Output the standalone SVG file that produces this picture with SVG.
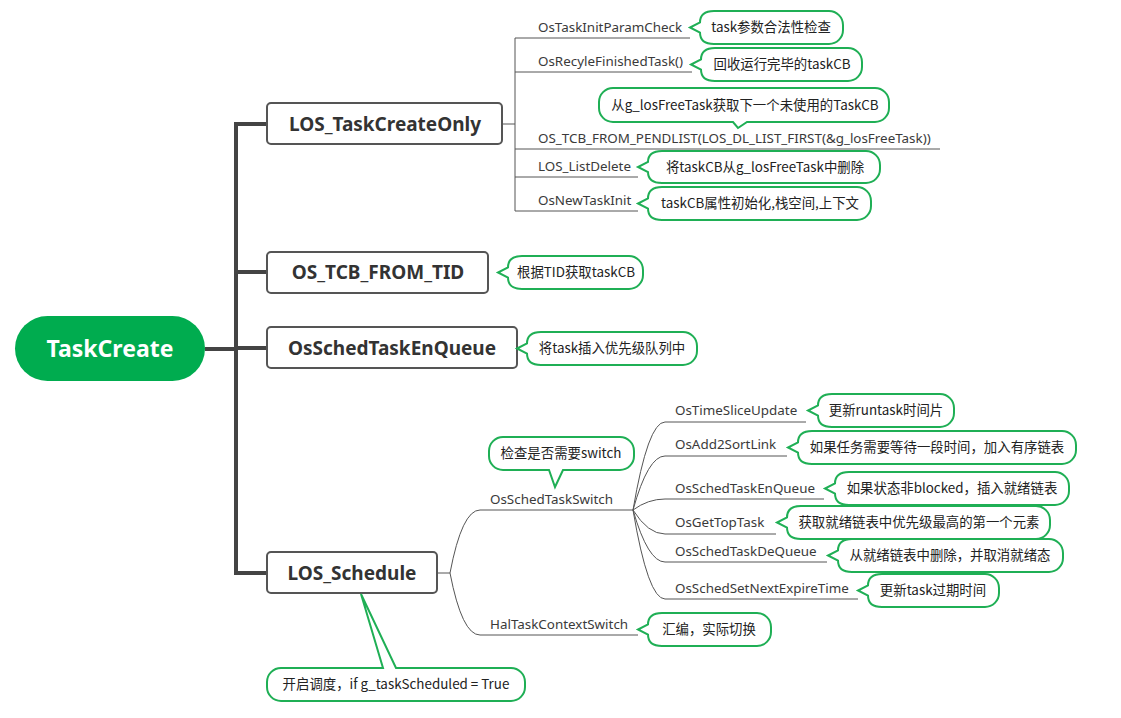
<svg xmlns="http://www.w3.org/2000/svg" width="1121" height="718" viewBox="0 0 1121 718">
<style>
.trunk{fill:none;stroke:#444;stroke-width:4}
.thin{fill:none;stroke:#555;stroke-width:1}
.node{fill:#fff;stroke:#555;stroke-width:2}
.nt{font-family:"Noto Sans","Noto Sans CJK SC",sans-serif;font-weight:bold;font-size:19px;fill:#333;text-anchor:middle}
.lbl{font-family:"Noto Sans","Noto Sans CJK SC",sans-serif;font-size:13.4px;fill:#3a3a3a}
.bub{fill:#fff;stroke:#1FAF55;stroke-width:2}
.bt{font-family:"Noto Sans CJK SC","Noto Sans",sans-serif;font-size:13.4px;fill:#222;text-anchor:middle}
</style>
<rect width="1121" height="718" fill="#fff"/>
<g id="connectors">
<path class="trunk" d="M205,349 H236 M236,122 V575 M234,124 H267 M236,272 H267 M236,348 H267 M234,573 H267"/>
<path class="thin" d="M502,124 H515 M515,38 V211 M515,38 H690 M515,72 H692 M515,149 H940 M515,177 H638 M515,211 H638"/>
<path class="thin" d="M437,573 H450 M450,573 Q462,510 480,510 H633 M450,573 Q462,635 480,635 H638"/>
<path class="thin" d="M633,510 Q648,422 665,422 H806 M633,510 Q648,456 665,456 H787 M633,510 Q648,499 665,499 H824 M633,510 Q648,534 665,534 H776 M633,510 Q648,562 665,562 H827 M633,510 Q648,599 665,599 H858"/>
</g>
<g id="root">
<rect x="15" y="316" width="190" height="65" rx="32.5" fill="#00AC4F"/>
<text x="110" y="357" font-family="Noto Sans,sans-serif" font-weight="bold" font-size="23" fill="#fff" text-anchor="middle">TaskCreate</text>
</g>
<g id="n-createonly">
<rect class="node" x="267" y="103" width="235" height="41" rx="4"/>
<text class="nt" x="385" y="131">LOS_TaskCreateOnly</text>
</g>
<g id="n-tcbfromtid">
<rect class="node" x="267" y="252" width="221" height="41" rx="4"/>
<text class="nt" x="378" y="279">OS_TCB_FROM_TID</text>
</g>
<g id="n-enqueue">
<rect class="node" x="267" y="327" width="250" height="41" rx="4"/>
<text class="nt" x="392" y="355">OsSchedTaskEnQueue</text>
</g>
<g id="n-schedule">
<rect class="node" x="267" y="552" width="170" height="41" rx="4"/>
<text class="nt" x="352" y="580">LOS_Schedule</text>
</g>
<g id="labels">
<text class="lbl" x="538" y="32">OsTaskInitParamCheck</text>
<text class="lbl" x="538" y="66">OsRecyleFinishedTask()</text>
<text class="lbl" x="538" y="143">OS_TCB_FROM_PENDLIST(LOS_DL_LIST_FIRST(&amp;g_losFreeTask))</text>
<text class="lbl" x="538" y="171">LOS_ListDelete</text>
<text class="lbl" x="538" y="205">OsNewTaskInit</text>
<text class="lbl" x="490" y="504">OsSchedTaskSwitch</text>
<text class="lbl" x="490" y="629">HalTaskContextSwitch</text>
<text class="lbl" x="675" y="415">OsTimeSliceUpdate</text>
<text class="lbl" x="675" y="449">OsAdd2SortLink</text>
<text class="lbl" x="675" y="493">OsSchedTaskEnQueue</text>
<text class="lbl" x="675" y="527">OsGetTopTask</text>
<text class="lbl" x="675" y="556">OsSchedTaskDeQueue</text>
<text class="lbl" x="675" y="593">OsSchedSetNextExpireTime</text>
</g>
<g id="callouts">
<g id="c1"><path class="bub" d="M714,11 H829 A14,14 0 0 1 843,25 V30 A14,14 0 0 1 829,44 H714 Q700,44 700,32.5 L690,27.5 L700,22.5 Q700,11 714,11 Z"/><text class="bt" x="771" y="32">task参数合法性检查</text></g>
<g id="c2"><path class="bub" d="M715,48 H848 A14,14 0 0 1 862,62 V67 A14,14 0 0 1 848,81 H715 Q701,81 701,69.5 L691,64.5 L701,59.5 Q701,48 715,48 Z"/><text class="bt" x="782" y="69">回收运行完毕的taskCB</text></g>
<g id="c3"><path class="bub" d="M613,88 H875 A14,14 0 0 1 889,102 V108 A14,14 0 0 1 875,122 H747 L738,128 L733,122 H613 A14,14 0 0 1 599,108 V102 A14,14 0 0 1 613,88 Z"/><text class="bt" x="745" y="110">从g_losFreeTask获取下一个未使用的TaskCB</text></g>
<g id="c4"><path class="bub" d="M662,151 H866 A14,14 0 0 1 880,165 V169 A14,14 0 0 1 866,183 H662 Q648,183 648,172 L638,167 L648,162 Q648,151 662,151 Z"/><text class="bt" x="765" y="171.5">将taskCB从g_losFreeTask中删除</text></g>
<g id="c5"><path class="bub" d="M662,187 H857 A14,14 0 0 1 871,201 V206 A14,14 0 0 1 857,220 H662 Q648,220 648,208.5 L638,203.5 L648,198.5 Q648,187 662,187 Z"/><text class="bt" x="760" y="208">taskCB属性初始化,栈空间,上下文</text></g>
<g id="c6"><path class="bub" d="M522,256 H629 A14,14 0 0 1 643,270 V275 A14,14 0 0 1 629,289 H522 Q508,289 508,277.5 L498,272.5 L508,267.5 Q508,256 522,256 Z"/><text class="bt" x="576" y="277">根据TID获取taskCB</text></g>
<g id="c7"><path class="bub" d="M541,332 H683 A14,14 0 0 1 697,346 V351 A14,14 0 0 1 683,365 H541 Q527,365 527,353.5 L517,348.5 L527,343.5 Q527,332 541,332 Z"/><text class="bt" x="612" y="353">将task插入优先级队列中</text></g>
<g id="c8"><path class="bub" d="M503,437 H620 A14,14 0 0 1 634,451 V456 A14,14 0 0 1 620,470 H563 L555,487 L549,470 H503 A14,14 0 0 1 489,456 V451 A14,14 0 0 1 503,437 Z"/><text class="bt" x="561" y="458">检查是否需要switch</text></g>
<g id="c9"><path class="bub" d="M832,394 H940 A14,14 0 0 1 954,408 V413 A14,14 0 0 1 940,427 H832 Q818,427 818,415.5 L808,410.5 L818,405.5 Q818,394 832,394 Z"/><text class="bt" x="886" y="415">更新runtask时间片</text></g>
<g id="c10"><path class="bub" d="M812,431 H1062 A14,14 0 0 1 1076,445 V450 A14,14 0 0 1 1062,464 H812 Q798,464 798,452.5 L788,447.5 L798,442.5 Q798,431 812,431 Z"/><text class="bt" x="937" y="452">如果任务需要等待一段时间，加入有序链表</text></g>
<g id="c11"><path class="bub" d="M849,472 H1055 A14,14 0 0 1 1069,486 V491 A14,14 0 0 1 1055,505 H849 Q835,505 835,493.5 L825,488.5 L835,483.5 Q835,472 849,472 Z"/><text class="bt" x="952" y="493">如果状态非blocked，插入就绪链表</text></g>
<g id="c12"><path class="bub" d="M801,506 H1036 A14,14 0 0 1 1050,520 V525 A14,14 0 0 1 1036,539 H801 Q787,539 787,527.5 L777,522.5 L787,517.5 Q787,506 801,506 Z"/><text class="bt" x="919" y="527">获取就绪链表中优先级最高的第一个元素</text></g>
<g id="c13"><path class="bub" d="M852,539 H1049 A14,14 0 0 1 1063,553 V558 A14,14 0 0 1 1049,572 H852 Q838,572 838,560.5 L828,555.5 L838,550.5 Q838,539 852,539 Z"/><text class="bt" x="950" y="560">从就绪链表中删除，并取消就绪态</text></g>
<g id="c14"><path class="bub" d="M882,574 H985 A14,14 0 0 1 999,588 V593 A14,14 0 0 1 985,607 H882 Q868,607 868,595.5 L858,590.5 L868,585.5 Q868,574 882,574 Z"/><text class="bt" x="933" y="595">更新task过期时间</text></g>
<g id="c15"><path class="bub" d="M662,613 H757 A14,14 0 0 1 771,627 V632 A14,14 0 0 1 757,646 H662 Q648,646 648,634.5 L638,629.5 L648,624.5 Q648,613 662,613 Z"/><text class="bt" x="709" y="634">汇编，实际切换</text></g>
<g id="c16"><path class="bub" d="M281,668 H383 L361,594 L396,668 H511 A14,14 0 0 1 525,682 V687 A14,14 0 0 1 511,701 H281 A14,14 0 0 1 267,687 V682 A14,14 0 0 1 281,668 Z"/><text class="bt" x="396" y="689">开启调度，if g_taskScheduled = True</text></g>
</g>
</svg>
